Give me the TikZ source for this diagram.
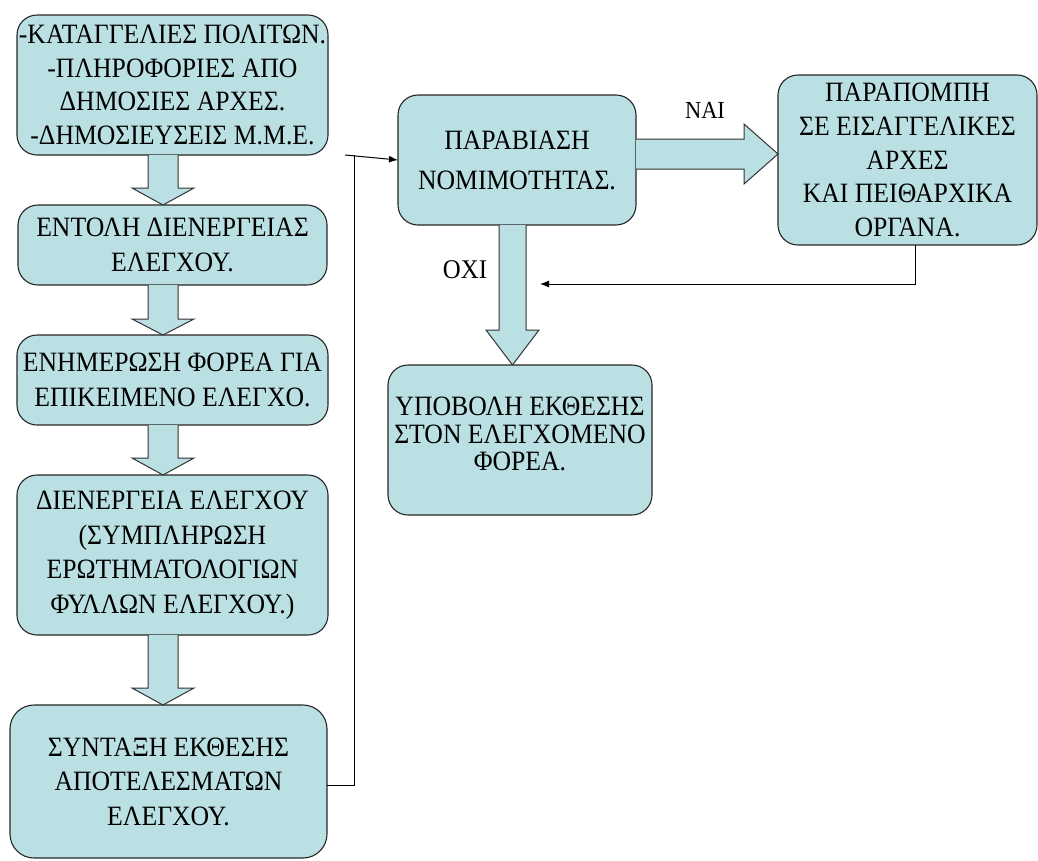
\documentclass[tikz,border=0pt]{standalone}
\usepackage{fontspec}
\setmainfont{Liberation Serif}[FakeStretch=0.918]
\usetikzlibrary{arrows.meta,calc}
\definecolor{boxfill}{RGB}{187,224,227}
\tikzset{
  box/.style={draw=black!85, line width=1.1pt, fill=boxfill, rounded corners=20pt,
    align=center, inner sep=0pt, outer sep=0pt, font=\fontsize{28}{34.5}\selectfont},
  blk/.style={draw=black!80, line width=1pt, fill=boxfill, line join=miter},
  link/.style={draw=black, line width=1pt},
  tip/.style={-{Latex[length=9pt,width=7pt]}},
  lbl/.style={inner sep=0pt}
}
% vertical block arrow: from, to, x centre, shaft half width, head half width, head length
\newcommand{\vblock}[6]{%
  \draw[blk] let \p1=(#1.south), \p2=(#2.north) in
    (#3pt-#4pt,\y1) -- (#3pt-#4pt,\y2+#6pt) -- (#3pt-#5pt,\y2+#6pt) -- (#3pt,\y2)
    -- (#3pt+#5pt,\y2+#6pt) -- (#3pt+#4pt,\y2+#6pt) -- (#3pt+#4pt,\y1);}
\begin{document}
\begin{tikzpicture}[x=1pt,y=-1pt]
\useasboundingbox (0,0) rectangle (1038,860);

% left column
\node[box, minimum width=311pt, minimum height=140pt, font=\fontsize{28}{33.5}\selectfont] (b1) at (172.5,85)
  {-ΚΑΤΑΓΓΕΛΙΕΣ ΠΟΛΙΤΩΝ.\\-ΠΛΗΡΟΦΟΡΙΕΣ ΑΠΟ\\ΔΗΜΟΣΙΕΣ ΑΡΧΕΣ.\\-ΔΗΜΟΣΙΕΥΣΕΙΣ Μ.Μ.Ε.};
\node[box, minimum width=309pt, minimum height=80pt] (b2) at (172.5,245)
  {ΕΝΤΟΛΗ ΔΙΕΝΕΡΓΕΙΑΣ\\ΕΛΕΓΧΟΥ.};
\node[box, minimum width=311pt, minimum height=90pt] (b3) at (172.5,380)
  {ΕΝΗΜΕΡΩΣΗ ΦΟΡΕΑ ΓΙΑ\\ΕΠΙΚΕΙΜΕΝΟ ΕΛΕΓΧΟ.};
\node[box, minimum width=311pt, minimum height=160pt] (b4) at (172.5,555)
  {ΔΙΕΝΕΡΓΕΙΑ ΕΛΕΓΧΟΥ\\(ΣΥΜΠΛΗΡΩΣΗ\\ΕΡΩΤΗΜΑΤΟΛΟΓΙΩΝ\\ΦΥΛΛΩΝ ΕΛΕΓΧΟΥ.)};
\node[box, minimum width=317pt, minimum height=153pt, rounded corners=24pt] (b5) at (168.5,781.5)
  {ΣΥΝΤΑΞΗ ΕΚΘΕΣΗΣ\\ΑΠΟΤΕΛΕΣΜΑΤΩΝ\\ΕΛΕΓΧΟΥ.};

% right part
\node[box, minimum width=238pt, minimum height=130pt, font=\fontsize{28}{40}\selectfont] (p) at (517,160)
  {ΠΑΡΑΒΙΑΣΗ\\ΝΟΜΙΜΟΤΗΤΑΣ.};
\node[box, minimum width=259pt, minimum height=170pt, font=\fontsize{28}{33.7}\selectfont] (r) at (907.5,160)
  {ΠΑΡΑΠΟΜΠΗ\\ΣΕ ΕΙΣΑΓΓΕΛΙΚΕΣ\\ΑΡΧΕΣ\\ΚΑΙ ΠΕΙΘΑΡΧΙΚΑ\\ΟΡΓΑΝΑ.};
\node[box, minimum width=264pt, minimum height=150pt, font=\fontsize{28}{27.5}\selectfont] (u) at (520,440)
  {ΥΠΟΒΟΛΗ ΕΚΘΕΣΗΣ\\ΣΤΟΝ ΕΛΕΓΧΟΜΕΝΟ\\ΦΟΡΕΑ.\rule[-12pt]{0pt}{12pt}};

% block arrows
\vblock{b1}{b2}{163}{15}{31}{17}
\vblock{b2}{b3}{163}{15}{31}{16}
\vblock{b3}{b4}{163}{15}{31}{17}
\vblock{b4}{b5}{163}{15}{31}{17}
\vblock{p}{u}{512.5}{13.5}{26.5}{35}
\draw[blk] let \p1=(p.east), \p2=(r.west) in
  (\x1,-139pt) -- (\x2-34pt,-139pt) -- (\x2-34pt,-124pt) -- (\x2,-154pt)
  -- (\x2-34pt,-184pt) -- (\x2-34pt,-169pt) -- (\x1,-169pt);

% labels
\node[lbl, font=\fontsize{24.5}{28}\selectfont] (nai) at (705,110) {ΝΑΙ};
\node[lbl, font=\fontsize{27}{30}\selectfont] (oxi) at (465,270) {ΟΧΙ};

% line connectors
\coordinate (j1) at (354,785);
\coordinate (j2) at (354,155);
\coordinate (j3) at (345,155);
\draw[link] (b5.east |- j1) -- (j1) -- (j2);
\draw[link, tip] (j3) -- (p.west);
\coordinate (k1) at (915,284);
\coordinate (k2) at (540,284);
\draw[link, tip] (r.south -| k1) -- (k1) -- (k2);
\end{tikzpicture}
\end{document}
